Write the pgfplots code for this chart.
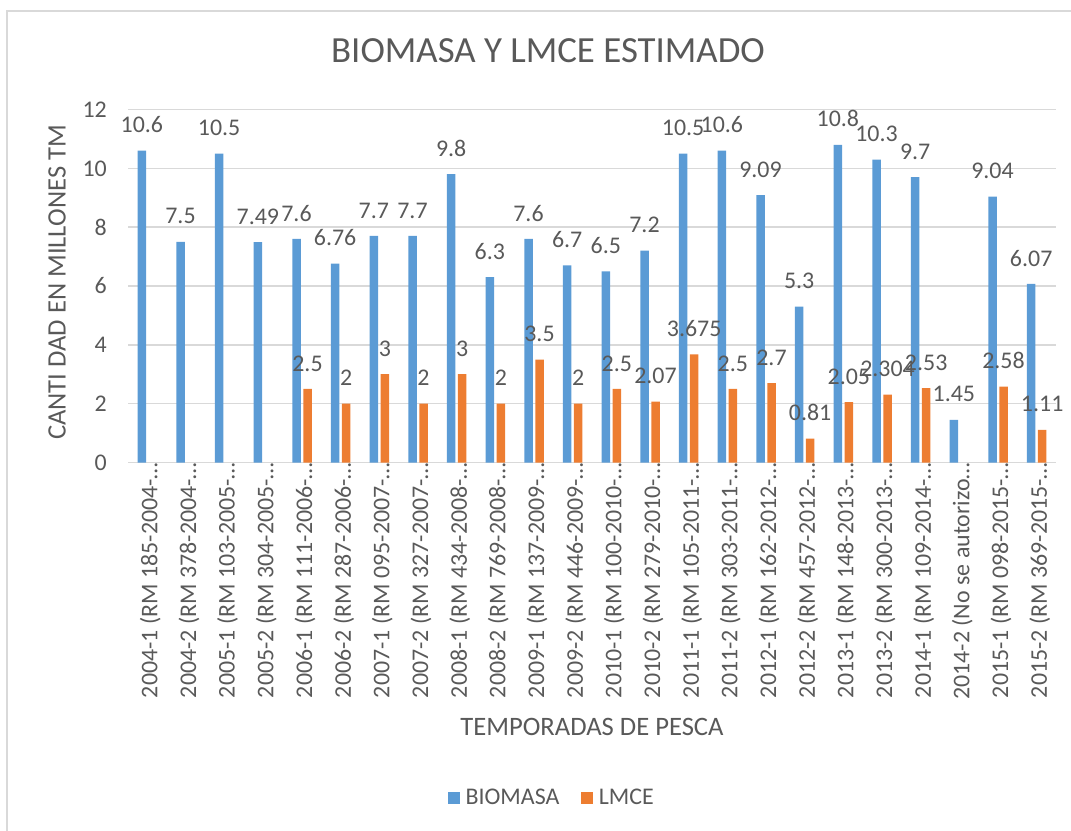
\documentclass[border=0pt]{standalone}
\usepackage{pgfplots}
\pgfplotsset{compat=1.18}
\usepackage{pgfplotstable}
\usepackage{fontspec}
\setmainfont{Carlito}
\definecolor{bioblue}{RGB}{91,155,213}
\definecolor{lmceorange}{RGB}{237,125,49}
\definecolor{labelgray}{RGB}{89,89,89}
\definecolor{gridgray}{RGB}{217,217,217}

\pgfplotstableread{
x bio
0 10.6
1 7.5
2 10.5
3 7.49
4 7.6
5 6.76
6 7.7
7 7.7
8 9.8
9 6.3
10 7.6
11 6.7
12 6.5
13 7.2
14 10.5
15 10.6
16 9.09
17 5.3
18 10.8
19 10.3
20 9.7
21 1.45
22 9.04
23 6.07
}\biotable

\pgfplotstableread{
x lmce
4 2.5
5 2
6 3
7 2
8 3
9 2
10 3.5
11 2
12 2.5
13 2.07
14 3.675
15 2.5
16 2.7
17 0.81
18 2.05
19 2.304
20 2.53
22 2.58
23 1.11
}\lmcetable

\begin{document}
\begin{tikzpicture}
\path[use as bounding box] (0bp,0bp) rectangle (1071bp,831bp);
\draw[gridgray, line width=2bp] (7bp,0bp) -- (7bp,819.7bp) -- (1071bp,819.7bp);
\begin{axis}[
  at={(128bp,368.5bp)}, anchor=south west,
  scale only axis, width=928bp, height=353bp,
  xmin=-0.5, xmax=23.5, ymin=0, ymax=12,
  enlarge x limits=false,
  clip=false,
  ybar=2.5bp, bar width=8.5bp,
  ytick={0,2,...,12},
  xtick={0,...,23},
  xticklabels={2004-1 (RM 185-2004-…,2004-2 (RM 378-2004-…,2005-1 (RM 103-2005-…,2005-2 (RM 304-2005-…,2006-1 (RM 111-2006-…,2006-2 (RM 287-2006-…,2007-1 (RM 095-2007-…,2007-2 (RM 327-2007-…,2008-1 (RM 434-2008-…,2008-2 (RM 769-2008-…,2009-1 (RM 137-2009-…,2009-2 (RM 446-2009-…,2010-1 (RM 100-2010-…,2010-2 (RM 279-2010-…,2011-1 (RM 105-2011-…,2011-2 (RM 303-2011-…,2012-1 (RM 162-2012-…,2012-2 (RM 457-2012-…,2013-1 (RM 148-2013-…,2013-2 (RM 300-2013-…,2014-1 (RM 109-2014-…,2014-2 (No se autorizo…,2015-1 (RM 098-2015-…,2015-2 (RM 369-2015-…},
  ymajorgrids,
  grid style={draw=gridgray, line width=1.5bp},
  axis x line*=bottom, axis y line*=left,
  y axis line style={draw=none},
  x axis line style={draw=gridgray, line width=1.5bp},
  major tick length=0pt,
  tick style={draw=none},
  /pgf/number format/assume math mode=true,
  tick label style={text=labelgray, font=\fontsize{24}{28}\selectfont},
  yticklabel style={anchor=east, inner sep=0pt, xshift=-21bp},
  xticklabel style={rotate=90, anchor=east, inner sep=0pt, yshift=-3bp},
  xlabel={TEMPORADAS DE PESCA},
  ylabel={CANTI DAD EN MILLONES TM},
  xlabel style={at={(0.5,-0.749)}, anchor=center, text=labelgray, font=\fontsize{26.7}{30}\selectfont},
  ylabel style={at={(-0.0765,0.51)}, anchor=center, text=labelgray, font=\fontsize{26.7}{30}\selectfont},
  title={BIOMASA Y LMCE ESTIMADO},
  title style={at={(0.4526,1.1487)}, anchor=center, text=labelgray, font=\fontsize{37}{44}\selectfont},
  nodes near coords,
  every node near coord/.append style={anchor=south, inner sep=0pt, yshift=17.5bp, text=labelgray, font=\fontsize{24}{28}\selectfont},
  legend style={at={(0.4558,-0.950)}, anchor=center, draw=none, fill=none, legend columns=2,
    font=\fontsize{24}{28}\selectfont, text=labelgray, inner sep=0pt,
    nodes={inner sep=0pt},
    /tikz/every odd column/.append style={column sep=6bp},
    /tikz/every even column/.append style={column sep=22bp}},
  legend image code/.code={\fill[#1] (0bp,-5.75bp) rectangle (11.5bp,5.75bp);},
]
\addplot[fill=bioblue, draw=none] table[x=x, y=bio] {\biotable};
\addplot[fill=lmceorange, draw=none, nodes near coords={\pgfmathprintnumber[precision=3,assume math mode=true]{\pgfplotspointmeta}}] table[x=x, y=lmce] {\lmcetable};
\legend{BIOMASA, LMCE}
\end{axis}
\end{tikzpicture}
\end{document}
